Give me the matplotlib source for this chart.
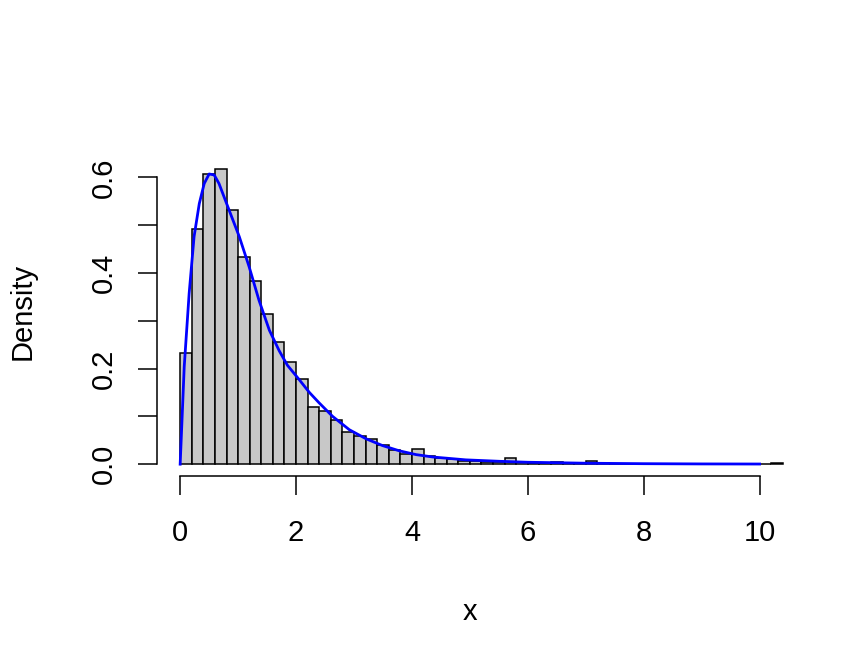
import matplotlib
matplotlib.use("Agg")
import matplotlib.pyplot as plt
import numpy as np

plt.rcParams["font.family"] = ["Liberation Sans", "DejaVu Sans"]

# histogram: bins of width 0.2 from 0 to 10.4, density heights
bin_edges = [round(0.2 * i, 1) for i in range(53)]
densities = [
    0.233, 0.491, 0.607, 0.617, 0.531, 0.434, 0.383, 0.314, 0.256, 0.214,
    0.179, 0.120, 0.111, 0.092, 0.068, 0.059, 0.052, 0.040, 0.029, 0.022,
    0.031, 0.017, 0.013, 0.010, 0.007, 0.006, 0.005, 0.004, 0.012, 0.004,
    0.003, 0.003, 0.005, 0.002, 0.002, 0.007, 0.002, 0.001, 0.001, 0.001,
    0.001, 0.000, 0.001, 0.000, 0.000, 0.000, 0.000, 0.000, 0.000, 0.000,
    0.000, 0.002,
]

# density curve points
curve_x = [0.0, 0.07, 0.155, 0.24, 0.33, 0.415, 0.50, 0.587, 0.67, 0.846,
           1.02, 1.19, 1.36, 1.54, 1.71, 1.85, 2.06, 2.23, 2.40, 2.63,
           2.92, 3.21, 3.49, 3.78, 4.07, 4.36, 4.93, 5.51, 6.0, 7.0,
           8.0, 9.0, 10.0]
curve_y = [0.0, 0.204, 0.357, 0.476, 0.545, 0.587, 0.607, 0.605, 0.587, 0.531,
           0.476, 0.413, 0.343, 0.280, 0.237, 0.207, 0.176, 0.150, 0.128, 0.100,
           0.072, 0.053, 0.039, 0.028, 0.020, 0.015, 0.009, 0.006, 0.004, 0.002,
           0.001, 0.0005, 0.0003]

fig = plt.figure(figsize=(8.64, 6.72), dpi=100)
ax = fig.add_axes([0.1817, 0.2917, 0.906 - 0.1817, 0.766 - 0.2917])

lefts = np.array(bin_edges[:-1])
ax.bar(lefts, densities, width=0.2, align="edge", color="#C8C8C8",
       edgecolor="black", linewidth=1.1, clip_on=False)
ax.plot(curve_x, curve_y, color="#0000FF", lw=2)

ax.set_xlim(-0.4, 10.4)
ax.set_ylim(-0.0247, 0.642)

for s in ["top", "right"]:
    ax.spines[s].set_visible(False)
ax.spines["left"].set_bounds(0, 0.6)
ax.spines["bottom"].set_bounds(0, 10)
for s in ["left", "bottom"]:
    ax.spines[s].set_linewidth(1.1)

fs = 21
ax.set_xticks([0, 2, 4, 6, 8, 10])
ax.set_xticklabels(["0", "2", "4", "6", "8", "10"], fontsize=fs)
yt = [0.0, 0.1, 0.2, 0.3, 0.4, 0.5, 0.6]
ax.set_yticks(yt)
ax.set_yticklabels(["0.0", "", "0.2", "", "0.4", "", "0.6"], fontsize=fs,
                   rotation=90, va="center")
ax.tick_params(direction="out", length=14, width=1.1)
ax.tick_params(axis="x", pad=17)
ax.tick_params(axis="y", pad=14)

ax.set_xlabel("x", fontsize=fs, va="center")
ax.set_ylabel("Density", fontsize=fs, va="center")
ax.xaxis.set_label_coords(0.5, -0.426)
ax.yaxis.set_label_coords(-0.214, 0.515)

fig.savefig("out.png", dpi=100)
